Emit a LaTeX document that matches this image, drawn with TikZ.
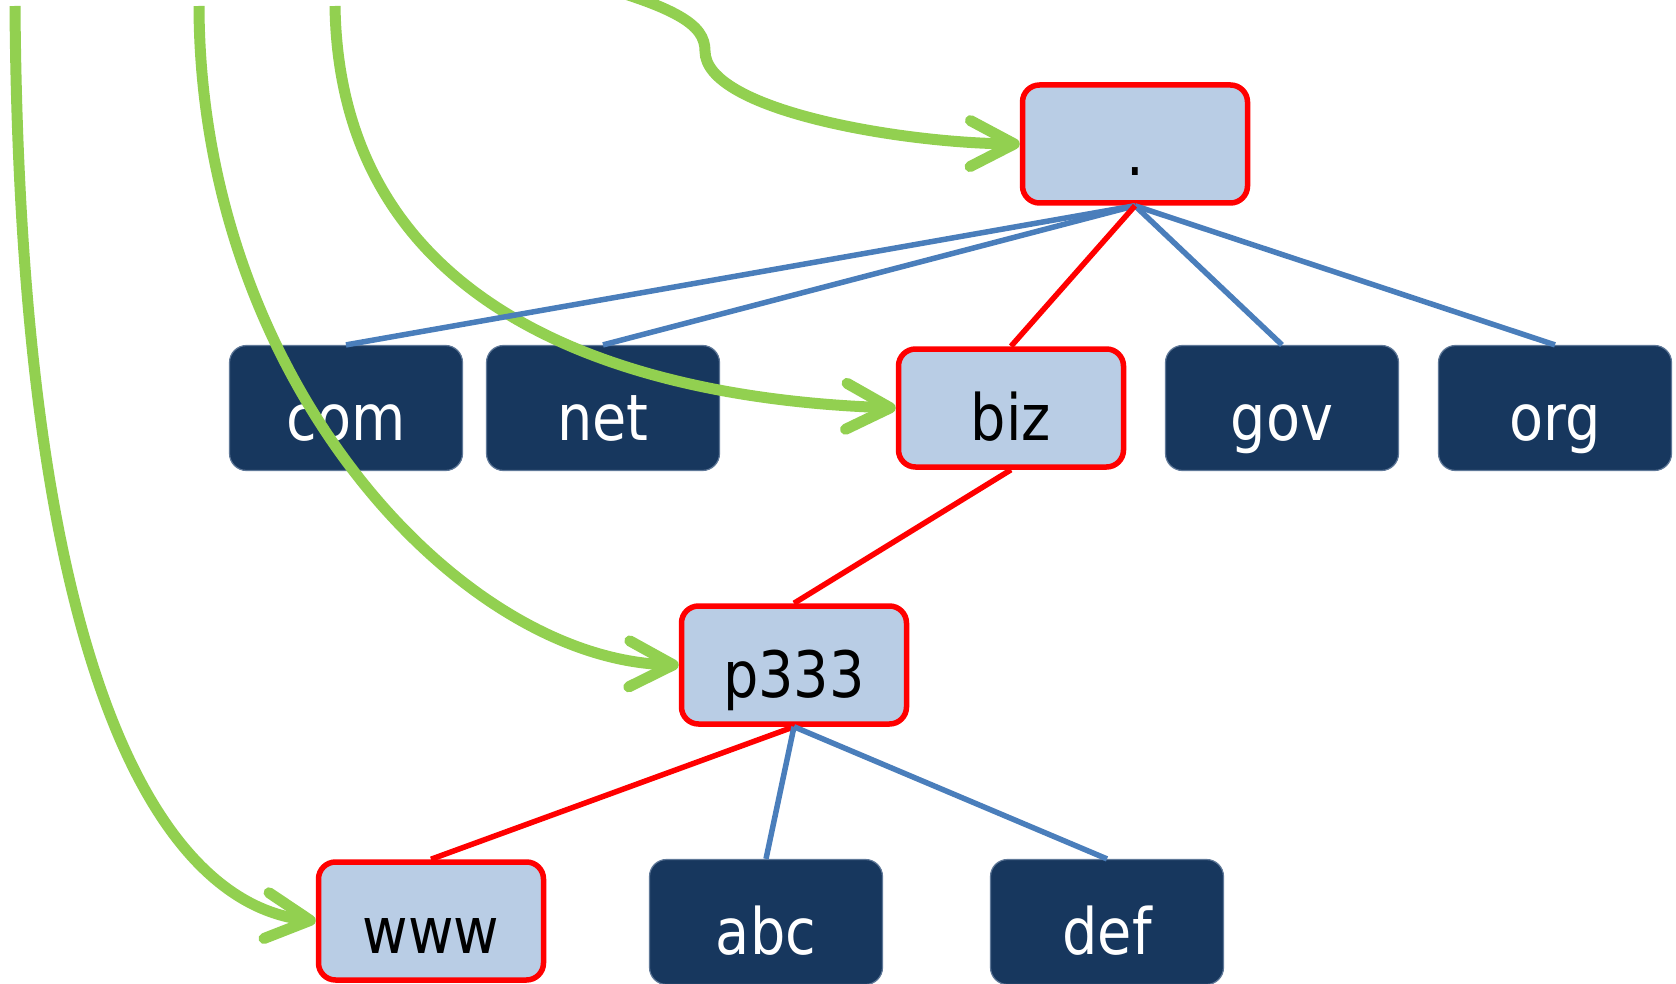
\documentclass[tikz,border=0pt]{standalone}
\usepackage{fontspec}
\setmainfont{DejaVu Sans}[FakeStretch=0.87]
\usetikzlibrary{arrows.meta}
\definecolor{navy}{HTML}{17375E}
\definecolor{navyedge}{HTML}{5F7898}
\definecolor{lightbox}{HTML}{B9CDE5}
\definecolor{bluel}{HTML}{4A7EBB}
\definecolor{greenl}{HTML}{92D050}
\definecolor{redl}{HTML}{FF0000}
\tikzset{
  base/.style={rectangle, rounded corners=17pt, inner sep=0pt,
    text height=80pt, text depth=16pt,
    font=\fontsize{64}{70}\selectfont},
  darkbox/.style={base, fill=navy, draw=navyedge, line width=1.2pt,
    minimum width=233pt, minimum height=125pt, text=white},
  lightbox/.style={base, fill=lightbox, draw=redl, line width=5.5pt,
    minimum width=225pt, minimum height=118pt, text=black},
  blueline/.style={draw=bluel, line width=5.5pt},
  redline/.style={draw=redl, line width=5.5pt},
  greenarrow/.style={draw=greenl, line width=11pt,
    -{Straight Barb[length=44pt,width=46pt,round]}},
}
\begin{document}
\begin{tikzpicture}[x=1pt,y=-1pt]
\useasboundingbox (0,0) rectangle (1676,984);
\clip (0,0) rectangle (1676,984);
% nodes
\node[lightbox] (root) at (1135,144) {.};
\node[darkbox] (com) at (346,408) {com};
\node[darkbox] (net) at (603,408) {net};
\node[lightbox] (biz) at (1011,408) {biz};
\node[darkbox] (gov) at (1282,408) {gov};
\node[darkbox] (org) at (1555,408) {org};
\node[lightbox] (p333) at (794,665) {p333};
\node[lightbox] (www) at (431,921) {www};
\node[darkbox] (abc) at (766,922) {abc};
\node[darkbox] (def) at (1107,922) {def};
% curve start points
\coordinate (s1) at (545,-28);
\coordinate (k1) at (705,51);
\coordinate (s2) at (335,6);
\coordinate (s3) at (199,6);
\coordinate (s4) at (15,6);
% green curves
\draw[greenarrow] (s1) .. controls (680,5) and (705,25) .. (k1)
   .. controls (705,110) and (900,143) .. (root.west);
\draw[greenarrow] (s2) .. controls (340,330) and (660,400) .. (biz.west);
\draw[greenarrow] (s3) .. controls (200,380) and (460,660) .. (p333.west);
\draw[greenarrow] (s4) .. controls (20,700) and (170,905) .. (www.west);
% tree connectors
\draw[blueline] (root.south) -- (com.north);
\draw[blueline] (root.south) -- (net.north);
\draw[blueline] (root.south) -- (gov.north);
\draw[blueline] (root.south) -- (org.north);
\draw[redline] (root.south) -- (biz.north);
\draw[redline] (biz.south) -- (p333.north);
\draw[redline] (p333.south) -- (www.north);
\draw[blueline] (p333.south) -- (abc.north);
\draw[blueline] (p333.south) -- (def.north);
\end{tikzpicture}
\end{document}
